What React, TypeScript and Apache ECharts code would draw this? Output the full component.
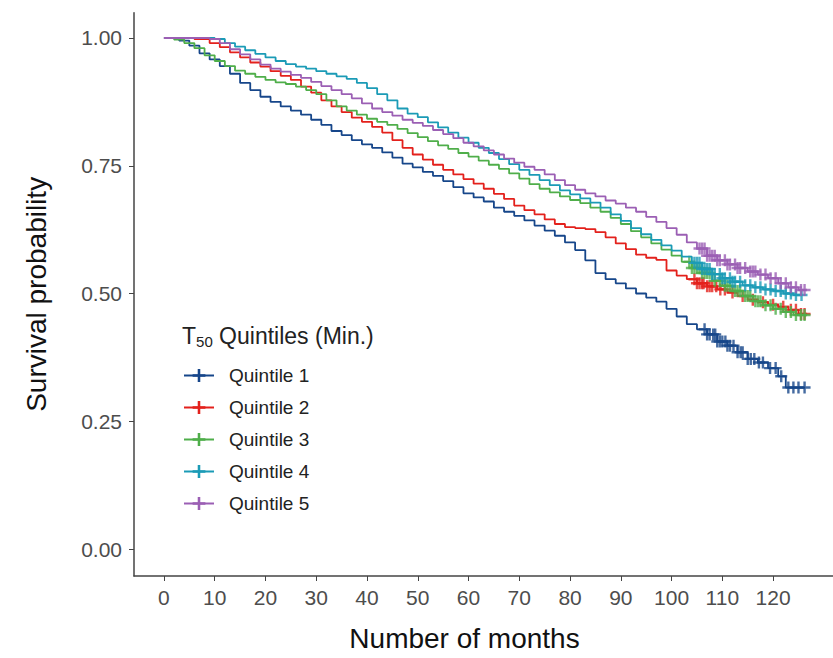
import React, { useEffect, useRef } from "react";
import * as echarts from "echarts";

const quintileNames = ["Quintile 1", "Quintile 2", "Quintile 3", "Quintile 4", "Quintile 5"];
const xTicks = [0, 10, 20, 30, 40, 50, 60, 70, 80, 90, 100, 110, 120];
const yTicks = [0, 0.25, 0.5, 0.75, 1];

const q1Months = [0, 3, 5, 7, 9, 11, 13, 15, 17, 19, 21, 23, 25, 27, 29, 31, 33, 35, 37, 39, 41, 43, 45, 47, 49, 51, 53, 55, 57, 59, 61, 63, 65, 67, 69, 71, 73, 75, 77, 79, 81, 83, 85, 87, 89, 91, 93, 95, 97, 99, 101, 103, 105, 107, 109, 111, 113, 115, 117, 119, 121, 122.5, 126.3];
const q1Survival = [1.0, 0.995, 0.985, 0.97, 0.958, 0.945, 0.93, 0.912, 0.898, 0.885, 0.875, 0.866, 0.858, 0.85, 0.84, 0.83, 0.818, 0.81, 0.8, 0.792, 0.785, 0.776, 0.766, 0.754, 0.747, 0.738, 0.73, 0.72, 0.708, 0.696, 0.688, 0.68, 0.668, 0.66, 0.652, 0.643, 0.633, 0.623, 0.613, 0.6, 0.585, 0.565, 0.54, 0.528, 0.52, 0.51, 0.5, 0.492, 0.484, 0.47, 0.455, 0.44, 0.43, 0.42, 0.406, 0.398, 0.385, 0.372, 0.365, 0.354, 0.338, 0.316, 0.316];
const q1Censored = [106.5, 107, 107.5, 108.2, 108.6, 109, 109.5, 110, 110.6, 111, 111.5, 112.2, 113, 113.6, 114, 115, 115.6, 116.3, 117.2, 118, 119.4, 120.5, 121.6, 123, 124, 125, 126.2];

const q2Months = [0, 6, 9, 11, 13, 15, 17, 19, 21, 23, 25, 27, 29, 31, 33, 35, 37, 39, 41, 43, 45, 47, 49, 51, 53, 55, 57, 59, 61, 63, 65, 67, 69, 71, 73, 75, 77, 79, 81, 83, 85, 87, 89, 91, 93, 95, 97, 99, 101, 103, 105, 107, 109, 111, 113, 115, 117, 119, 121, 123, 125, 126.3];
const q2Survival = [1.0, 0.998, 0.99, 0.982, 0.972, 0.962, 0.952, 0.944, 0.935, 0.926, 0.918, 0.905, 0.893, 0.878, 0.866, 0.855, 0.844, 0.836, 0.826, 0.815, 0.8, 0.785, 0.772, 0.762, 0.752, 0.742, 0.733, 0.724, 0.715, 0.705, 0.695, 0.685, 0.672, 0.663, 0.655, 0.645, 0.636, 0.63, 0.628, 0.626, 0.62, 0.61, 0.598, 0.587, 0.576, 0.57, 0.566, 0.545, 0.535, 0.528, 0.52, 0.514, 0.508, 0.502, 0.495, 0.488, 0.483, 0.478, 0.474, 0.468, 0.46, 0.46];
const q2Censored = [104.5, 105, 105.5, 106, 106.3, 107, 107.5, 108, 108.8, 109.6, 110.5, 112, 114, 116, 118, 120, 122, 123.5, 124.5, 125.5, 126.2];

const q3Months = [0, 2, 4, 6, 8, 10, 12, 14, 16, 18, 20, 22, 24, 26, 28, 30, 32, 34, 36, 38, 40, 42, 44, 46, 48, 50, 52, 54, 56, 58, 60, 62, 64, 66, 68, 70, 72, 74, 76, 78, 80, 82, 84, 86, 88, 90, 92, 94, 96, 98, 100, 102, 104, 106, 108, 110, 112, 114, 116, 118, 120, 122, 124, 126.3];
const q3Survival = [1.0, 0.997, 0.99, 0.98, 0.966, 0.955, 0.945, 0.936, 0.93, 0.924, 0.918, 0.913, 0.91, 0.905, 0.898, 0.89, 0.878, 0.866, 0.858, 0.85, 0.842, 0.836, 0.83, 0.822, 0.814, 0.806, 0.798, 0.79, 0.783, 0.775, 0.768, 0.76, 0.752, 0.744, 0.735, 0.725, 0.714, 0.705, 0.698, 0.69, 0.683, 0.677, 0.668, 0.66, 0.648, 0.636, 0.622, 0.61, 0.598, 0.586, 0.574, 0.562, 0.55, 0.54, 0.525, 0.515, 0.505, 0.495, 0.485, 0.477, 0.47, 0.464, 0.458, 0.455];
const q3Censored = [103.5, 104, 104.5, 105, 105.5, 106, 106.5, 107, 107.5, 108.5, 109.5, 110.5, 111, 111.5, 112.5, 113, 113.5, 114.5, 115, 115.5, 116.5, 117, 117.5, 118.5, 119.5, 120.5, 121.5, 122.5, 123.5, 124.5, 125.5, 126.2];

const q4Months = [0, 10, 12, 14, 16, 18, 20, 22, 24, 26, 28, 30, 32, 34, 36, 38, 40, 42, 44, 46, 48, 50, 52, 54, 56, 58, 60, 62, 64, 66, 68, 70, 72, 74, 76, 78, 80, 82, 84, 86, 88, 90, 92, 94, 96, 98, 100, 102, 104, 106, 108, 110, 112, 114, 116, 118, 120, 122, 124, 125.8];
const q4Survival = [1.0, 0.998, 0.99, 0.983, 0.976, 0.969, 0.962, 0.955, 0.949, 0.944, 0.94, 0.935, 0.93, 0.925, 0.92, 0.912, 0.902, 0.89, 0.878, 0.862, 0.852, 0.845, 0.835, 0.825, 0.815, 0.805, 0.795, 0.785, 0.775, 0.763, 0.753, 0.742, 0.732, 0.722, 0.712, 0.702, 0.694, 0.686, 0.678, 0.668, 0.655, 0.642, 0.628, 0.616, 0.605, 0.594, 0.584, 0.572, 0.56, 0.548, 0.538, 0.53, 0.523, 0.516, 0.512, 0.508, 0.505, 0.5, 0.497, 0.497];
const q4Censored = [104.5, 105, 105.5, 106, 106.5, 107, 107.5, 108, 108.5, 109.5, 110, 110.5, 111.5, 112, 112.5, 113.5, 114.5, 115.5, 116.5, 117.5, 118.5, 119.5, 120.5, 121.5, 122.5, 123.5, 124.5, 125.6];

const q5Months = [0, 9, 11, 13, 15, 17, 19, 21, 23, 25, 27, 29, 31, 33, 35, 37, 39, 41, 43, 45, 47, 49, 51, 53, 55, 57, 59, 61, 63, 65, 67, 69, 71, 73, 75, 77, 79, 81, 83, 85, 87, 89, 91, 93, 95, 97, 99, 101, 103, 105, 107, 109, 111, 113, 115, 117, 119, 121, 123, 125, 126.3];
const q5Survival = [1.0, 0.998, 0.99, 0.978, 0.968, 0.958, 0.948, 0.94, 0.934, 0.928, 0.922, 0.914, 0.906, 0.898, 0.89, 0.882, 0.872, 0.862, 0.855, 0.848, 0.84, 0.834, 0.828, 0.82, 0.812, 0.804, 0.795, 0.788, 0.78, 0.772, 0.764, 0.756, 0.748, 0.742, 0.733, 0.722, 0.712, 0.703, 0.696, 0.69, 0.682, 0.676, 0.668, 0.66, 0.65, 0.64, 0.628, 0.615, 0.6, 0.588, 0.574, 0.565, 0.557, 0.55, 0.543, 0.537, 0.53, 0.52, 0.512, 0.507, 0.505];
const q5Censored = [105.5, 106, 106.5, 107, 107.5, 108, 108.5, 109, 109.5, 110.5, 111, 111.5, 112.5, 113, 113.5, 114.5, 115.5, 116, 116.5, 117.5, 118.5, 119.5, 120.5, 121.5, 122.5, 123.5, 124.5, 125.5, 126.2];

const allMonths = [q1Months, q2Months, q3Months, q4Months, q5Months];
const allSurvival = [q1Survival, q2Survival, q3Survival, q4Survival, q5Survival];
const allCensored = [q1Censored, q2Censored, q3Censored, q4Censored, q5Censored];

const colors = ["#16468a", "#e3211c", "#4fae4a", "#1b9bb6", "#9b5fb4"];
const FONT = "'Liberation Sans', Arial, Helvetica, sans-serif";
const PLUS = "path://M4,0H6V4H10V6H6V10H4V6H0V4H4Z";

function survivalAt(months: number[], surv: number[], t: number) {
  let s = surv[0];
  for (let i = 0; i < months.length; i++) {
    if (months[i] <= t) s = surv[i];
  }
  return s;
}

export default function App() {
  const ref = useRef<HTMLDivElement>(null);
  useEffect(() => {
    if (!ref.current) return;
    const chart = echarts.init(ref.current, null, { renderer: "svg" });
    const lineSeries = quintileNames.map((name, k) => ({
      name,
      type: "line",
      step: "end",
      data: allMonths[k].map((m, i) => [m, allSurvival[k][i]]),
      showSymbol: false,
      symbol: PLUS,
      symbolSize: 14,
      lineStyle: { width: 1.8, color: colors[k] },
      itemStyle: { color: colors[k] },
      z: 2 + k,
    }));
    const censorSeries = quintileNames.map((name, k) => ({
      name: name + " censored",
      type: "scatter",
      data: allCensored[k].map((t) => [t, survivalAt(allMonths[k], allSurvival[k], t)]),
      symbol: PLUS,
      symbolSize: 12,
      itemStyle: { color: colors[k] },
      z: 2 + k,
    }));
    chart.setOption({
      animation: false,
      backgroundColor: "#ffffff",
      grid: { left: 134, right: 0, top: 12.7, bottom: 82, containLabel: false, outerBoundsMode: "none" },
      xAxis: {
        type: "value",
        min: -5.9,
        max: 131.8,
        name: "Number of months",
        nameLocation: "middle",
        nameGap: 48,
        nameTextStyle: { fontSize: 28, color: "#111", fontFamily: FONT, padding: [0, 38, 0, 0] },
        axisLine: { show: true, onZero: false, lineStyle: { color: "#444", width: 1.5 } },
        axisTick: { show: true, length: 5, lineStyle: { color: "#444" }, customValues: xTicks },
        axisLabel: { fontSize: 21, color: "#4d4d4d", margin: 11, fontFamily: FONT, customValues: xTicks },
        splitLine: { show: false },
      },
      yAxis: {
        type: "value",
        min: -0.0528,
        max: 1.0495,
        name: "Survival probability",
        nameLocation: "middle",
        nameGap: 84,
        nameRotate: 90,
        nameTextStyle: { fontSize: 28, color: "#111", fontFamily: FONT },
        axisLine: { show: true, onZero: false, lineStyle: { color: "#444", width: 1.5 } },
        axisTick: { show: true, length: 5, lineStyle: { color: "#444" }, customValues: yTicks },
        axisLabel: {
          fontSize: 21,
          color: "#4d4d4d",
          margin: 12,
          fontFamily: FONT,
          customValues: yTicks,
          formatter: (v: number) => v.toFixed(2),
        },
        splitLine: { show: false },
      },
      legend: {
        data: quintileNames,
        orient: "vertical",
        left: 178,
        top: 361,
        itemWidth: 30,
        itemHeight: 16,
        itemGap: 13,
        textStyle: { fontSize: 19, color: "#222", fontFamily: FONT, padding: [0, 0, 0, 10] },
      },
      graphic: [
        {
          type: "text",
          left: 182,
          top: 324,
          style: {
            text: "{t|T}{s|50}{t| Quintiles (Min.)}",
            rich: {
              t: { fontSize: 23, fontFamily: FONT, fill: "#222", lineHeight: 26 },
              s: { fontSize: 15, fontFamily: FONT, fill: "#222", verticalAlign: "bottom", lineHeight: 18, padding: [8, 0, 0, 0] },
            },
          },
        },
      ],
      series: [...lineSeries, ...censorSeries],
    });
    return () => chart.dispose();
  }, []);
  return <div ref={ref} style={{ width: 833, height: 658, position: "absolute", left: 0, top: 0 }} />;
}
